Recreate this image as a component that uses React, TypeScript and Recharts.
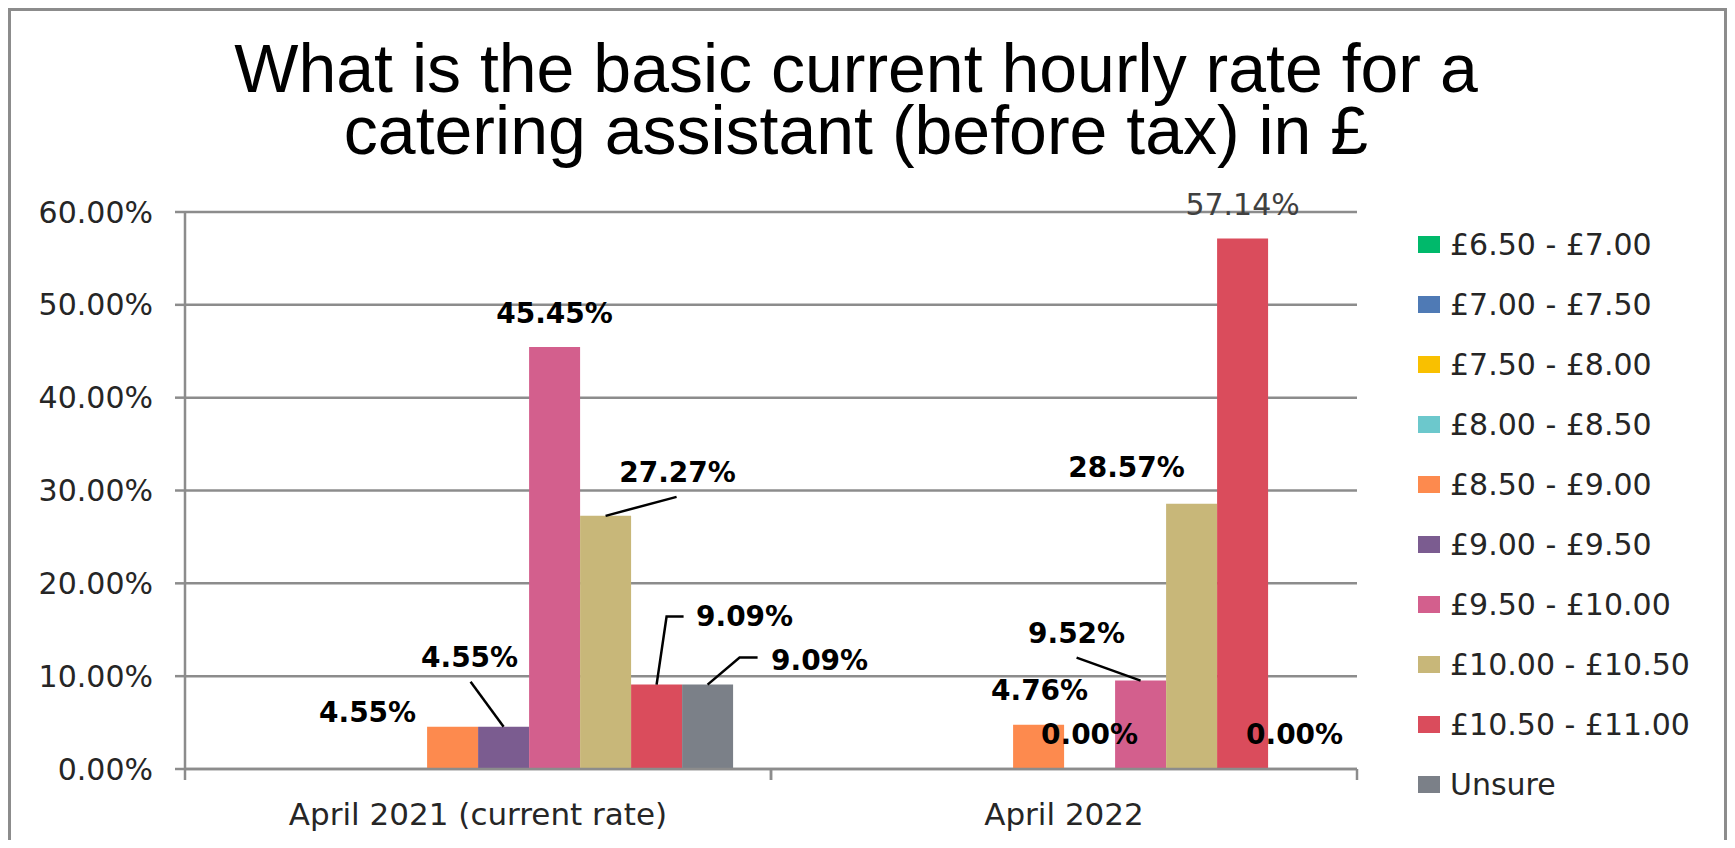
import React from 'react';
import { BarChart, Bar, XAxis, YAxis, CartesianGrid, Legend, LabelList } from 'recharts';

const periods = ['April 2021 (current rate)', 'April 2022'];

const rateBands = [
  '£6.50 - £7.00',
  '£7.00 - £7.50',
  '£7.50 - £8.00',
  '£8.00 - £8.50',
  '£8.50 - £9.00',
  '£9.00 - £9.50',
  '£9.50 - £10.00',
  '£10.00 - £10.50',
  '£10.50 - £11.00',
  'Unsure',
];

// % of answers per band; null = no bar and no label
const april2021 = [null, null, null, null, 4.55, 4.55, 45.45, 27.27, 9.09, 9.09];
const april2022 = [null, null, null, null, 4.76, 0, 9.52, 28.57, 57.14, 0];

const yTicks = [0, 10, 20, 30, 40, 50, 60];

const bandColors = [
  '#00B96B', '#4F7AB5', '#F9C000', '#6CC8CC', '#FD8A4E',
  '#7B5C90', '#D35F8D', '#C8B779', '#DA4C5C', '#7B8088',
];

const seriesByPeriod = [april2021, april2022];
const chartData = periods.map((period, p) => {
  const row: Record<string, string | number | null> = { period };
  rateBands.forEach((_, b) => {
    row[`b${b}`] = seriesByPeriod[p][b];
  });
  return row;
});

// label placement relative to the top-centre of each bar (key: period-band)
type Spot = { dx: number; dy: number; leader?: [number, number][]; plain?: boolean };
const labelSpots: Record<string, Spot> = {
  '0-4': { dx: -85, dy: -14 },
  '0-5': { dx: -34, dy: -69, leader: [[0, 0], [-33, -45]] },
  '0-6': { dx: 0, dy: -34 },
  '0-7': { dx: 72, dy: -43, leader: [[0, 0], [71, -19]] },
  '0-8': { dx: 88, dy: -68, leader: [[0, 0], [10, -68], [27, -68]] },
  '0-9': { dx: 112, dy: -24, leader: [[0, 0], [32, -27], [50, -27]] },
  '1-4': { dx: 1, dy: -34 },
  '1-5': { dx: 0, dy: -34 },
  '1-6': { dx: -64, dy: -47, leader: [[0, 0], [-64, -23]] },
  '1-7': { dx: -65, dy: -36 },
  '1-8': { dx: 0, dy: -34, plain: true },
  '1-9': { dx: 1, dy: -34 },
};

const GRID = '#8c8c8c';
const FONT = '"DejaVu Sans", Verdana, sans-serif';

const bandLabel = (band: number) => (props: any) => {
  const { value, index } = props;
  if (value === null || value === undefined) return null;
  const vb = props.viewBox ?? props;
  const x = Number(vb.x ?? props.x);
  const y = Number(vb.y ?? props.y);
  const w = Number(vb.width ?? props.width);
  const spot = labelSpots[`${index}-${band}`];
  if (!spot) return null;
  const cx = x + w / 2;
  return (
    <g>
      {spot.leader && (
        <polyline
          points={spot.leader.map(([lx, ly]) => `${cx + lx},${y + ly}`).join(' ')}
          fill="none"
          stroke="#000"
          strokeWidth={2.5}
        />
      )}
      <text
        x={cx + spot.dx}
        y={y + spot.dy}
        textAnchor="middle"
        dominantBaseline="central"
        fontFamily={FONT}
        fontSize={spot.plain ? 30 : 28}
        fontWeight={spot.plain ? 400 : 700}
        fill={spot.plain ? '#404040' : '#000'}
      >
        {`${Number(value).toFixed(2)}%`}
      </text>
    </g>
  );
};

const PeriodTick = (props: any) => {
  const { x, y, payload } = props;
  const half = payload?.offset ?? 293;
  return (
    <g>
      <line x1={x - half} x2={x - half} y1={y} y2={y + 11} stroke={GRID} strokeWidth={2.5} />
      <line x1={x + half} x2={x + half} y1={y} y2={y + 11} stroke={GRID} strokeWidth={2.5} />
      <text x={x} y={y + 34} dy="0.71em" textAnchor="middle" fontFamily={FONT} fontSize={31} fill="#262626">
        {payload.value}
      </text>
    </g>
  );
};

const renderLegend = (props: any) => {
  const items = [...(props.payload ?? [])].sort(
    (a: any, b: any) => rateBands.indexOf(a.value) - rateBands.indexOf(b.value)
  );
  return (
    <div style={{ display: 'flex', flexDirection: 'column' }}>
      {items.map((item: any) => (
        <div key={item.value} style={{ height: 60, display: 'flex', alignItems: 'center' }}>
          <span style={{ width: 22, height: 17, background: item.color, marginRight: 10, display: 'inline-block' }} />
          <span style={{ fontFamily: FONT, fontSize: 30, color: '#262626', whiteSpace: 'nowrap' }}>{item.value}</span>
        </div>
      ))}
    </div>
  );
};

// zero answers still get a (hair-thin) bar so the 0.00% label is drawn
const zeroBarSize = (value: any) => (value === 0 ? 0.01 : 0);

export default function App() {
  return (
    <div
      style={{
        position: 'relative',
        width: 1713,
        height: 829,
        borderLeft: `3px solid ${GRID}`,
        borderTop: `3px solid ${GRID}`,
        borderRight: `3px solid ${GRID}`,
        background: '#fff',
      }}
    >
      <div
        style={{
          position: 'absolute',
          left: 45,
          top: 26,
          width: 1600,
          textAlign: 'center',
          fontFamily: '"Liberation Sans", Arial, sans-serif',
          fontSize: 68,
          lineHeight: '62px',
          color: '#000',
          zIndex: 1,
        }}
      >
        What is the basic current hourly rate for a
        <br />
        catering assistant (before tax) in £
      </div>
      <BarChart
        width={1713}
        height={826}
        data={chartData}
        margin={{ top: 201, right: 367, bottom: 8, left: 0 }}
        barCategoryGap="6.5%"
        barGap={0}
      >
        <CartesianGrid vertical={false} stroke={GRID} strokeWidth={2.5} />
        <XAxis
          dataKey="period"
          height={60}
          interval={0}
          axisLine={{ stroke: GRID, strokeWidth: 2.5 }}
          tickLine={false}
          tickSize={0}
          tickMargin={0}
          tick={<PeriodTick />}
        />
        <YAxis
          width={174}
          domain={[0, 60]}
          ticks={yTicks}
          interval={0}
          tickFormatter={(v: number) => `${v.toFixed(2)}%`}
          axisLine={{ stroke: GRID, strokeWidth: 2.5 }}
          tickLine={{ stroke: GRID, strokeWidth: 2.5 }}
          tickSize={10}
          tickMargin={22}
          tick={{ fill: '#262626', fontSize: 30, fontFamily: FONT }}
        />
        <Legend
          layout="vertical"
          align="center"
          verticalAlign="middle"
          content={renderLegend}
          wrapperStyle={{ left: 1407, top: 203, width: 300 }}
        />
        {rateBands.map((band, i) => (
          <Bar
            key={band}
            dataKey={`b${i}`}
            name={band}
            fill={bandColors[i]}
            minPointSize={zeroBarSize}
            isAnimationActive={false}
          >
            <LabelList content={bandLabel(i)} />
          </Bar>
        ))}
      </BarChart>
    </div>
  );
}
